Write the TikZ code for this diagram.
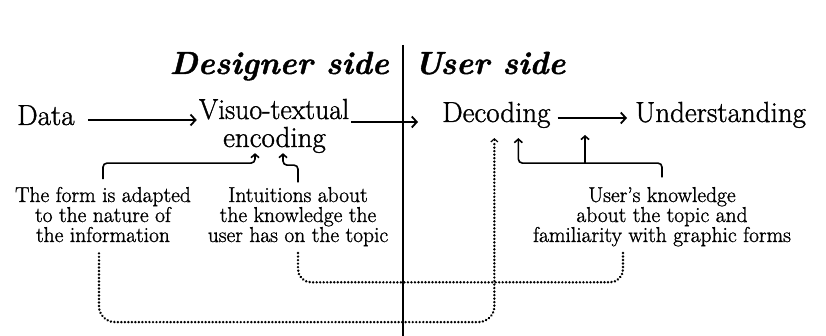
\documentclass[tikz,border=0pt]{standalone}
\usepackage{fontspec}
\setmainfont{Latin Modern Roman}[FakeBold=1.2]
\usetikzlibrary{arrows.meta}

\tikzset{
  stage/.style={inner sep=0pt, font=\fontsize{29}{30}\selectfont},
  sidetitle/.style={inner sep=0pt, font=\fontsize{32}{34}\selectfont\bfseries\itshape},
  note/.style={inner sep=0pt, align=center, font=\fontsize{21.5}{20}\selectfont},
  flow/.style={line width=1.8pt, -{Straight Barb[length=5pt,width=11pt]}},
  feed/.style={line width=1.6pt, rounded corners=4pt, -{Straight Barb[length=3.5pt,width=8pt]}},
  dotline/.style={line width=2.7pt, line cap=round, dash pattern=on 0.01pt off 3.5pt},
  divider/.style={line width=1.7pt}
}

\begin{document}
\begin{tikzpicture}[x=1pt,y=-1pt]
  \useasboundingbox[fill=white] (0,0) rectangle (826,336);

  % dividing line between the two sides
  \coordinate (divtop) at (403,45);
  \coordinate (divbot) at (403,336);
  \draw[divider] (divtop) -- (divbot);

  % side titles
  \node[sidetitle, anchor=base east] (designer) at (389,74) {Designer side};
  \node[sidetitle, anchor=base west] (user) at (414,74) {User side};

  % main chain
  \node[stage, anchor=base west] (data) at (17,125) {Data};
  \node[stage, anchor=base, xscale=0.96] (vis) at (274,119) {Visuo-textual};
  \node[stage, anchor=base] (enc) at (274.5,147) {encoding};
  \node[stage, anchor=base west] (dec) at (442,122) {Decoding};
  \node[stage, anchor=base west] (und) at (635,122) {Understanding};

  \draw[flow] ([xshift=13pt,yshift=5pt]data.base east) -- ([xshift=-2pt,yshift=-1pt]vis.base west);
  \draw[flow] ([xshift=2pt,yshift=-3pt]vis.base east) -- ([xshift=-24pt]dec.base west);
  \draw[flow] ([xshift=7pt,yshift=4pt]dec.base east) -- ([xshift=-8pt,yshift=4pt]und.base west);

  % explanatory notes (base anchor sits on the last line)
  \node[note, anchor=base] (form) at (103,242)
    {The form is adapted\\to the nature of\\the information};
  \node[note, anchor=base] (intu) at (298,242)
    {Intuitions about\\the knowledge the\\user has on the topic};
  \node[note, anchor=base] (know) at (662,242)
    {User's knowledge\\about the topic and\\familiarity with graphic forms};

  % solid feedback arrows
  \draw[feed] ([yshift=7.5pt]form.north)
    |- ([xshift=-19.5pt,yshift=-10pt]enc.south)
    -- ([xshift=-19.5pt,yshift=0pt]enc.south);
  \draw[feed] ([yshift=4.5pt]intu.north)
    |- ([xshift=8.5pt,yshift=-12pt]enc.south)
    -- ([xshift=8.5pt,yshift=0pt]enc.south);
  \draw[feed] ([yshift=9.5pt]know.north)
    |- ([xshift=22pt,yshift=-35pt]dec.south)
    -- ([xshift=22pt,yshift=-10pt]dec.south);
  \coordinate (branch) at (585,163);
  \draw[feed] (branch) -- (branch |- 0,135);

  % dotted links
  \draw[dotline, rounded corners=16pt]
    ([xshift=-4pt,yshift=-11pt]form.south)
    |- ([xshift=-2pt,yshift=-194pt]dec.south)
    -- ([xshift=-2pt,yshift=-13pt]dec.south);
  \draw[line width=1.2pt, -{Straight Barb[length=3pt,width=7pt]}]
    ([xshift=-2pt,yshift=-13pt]dec.south) -- ([xshift=-2pt,yshift=-10pt]dec.south);
  \draw[dotline, rounded corners=13pt]
    ([yshift=-6.7pt]intu.south)
    |- ([xshift=-39pt,yshift=-35.7pt]know.south)
    -- ([xshift=-39pt,yshift=-5.7pt]know.south);
\end{tikzpicture}
\end{document}
